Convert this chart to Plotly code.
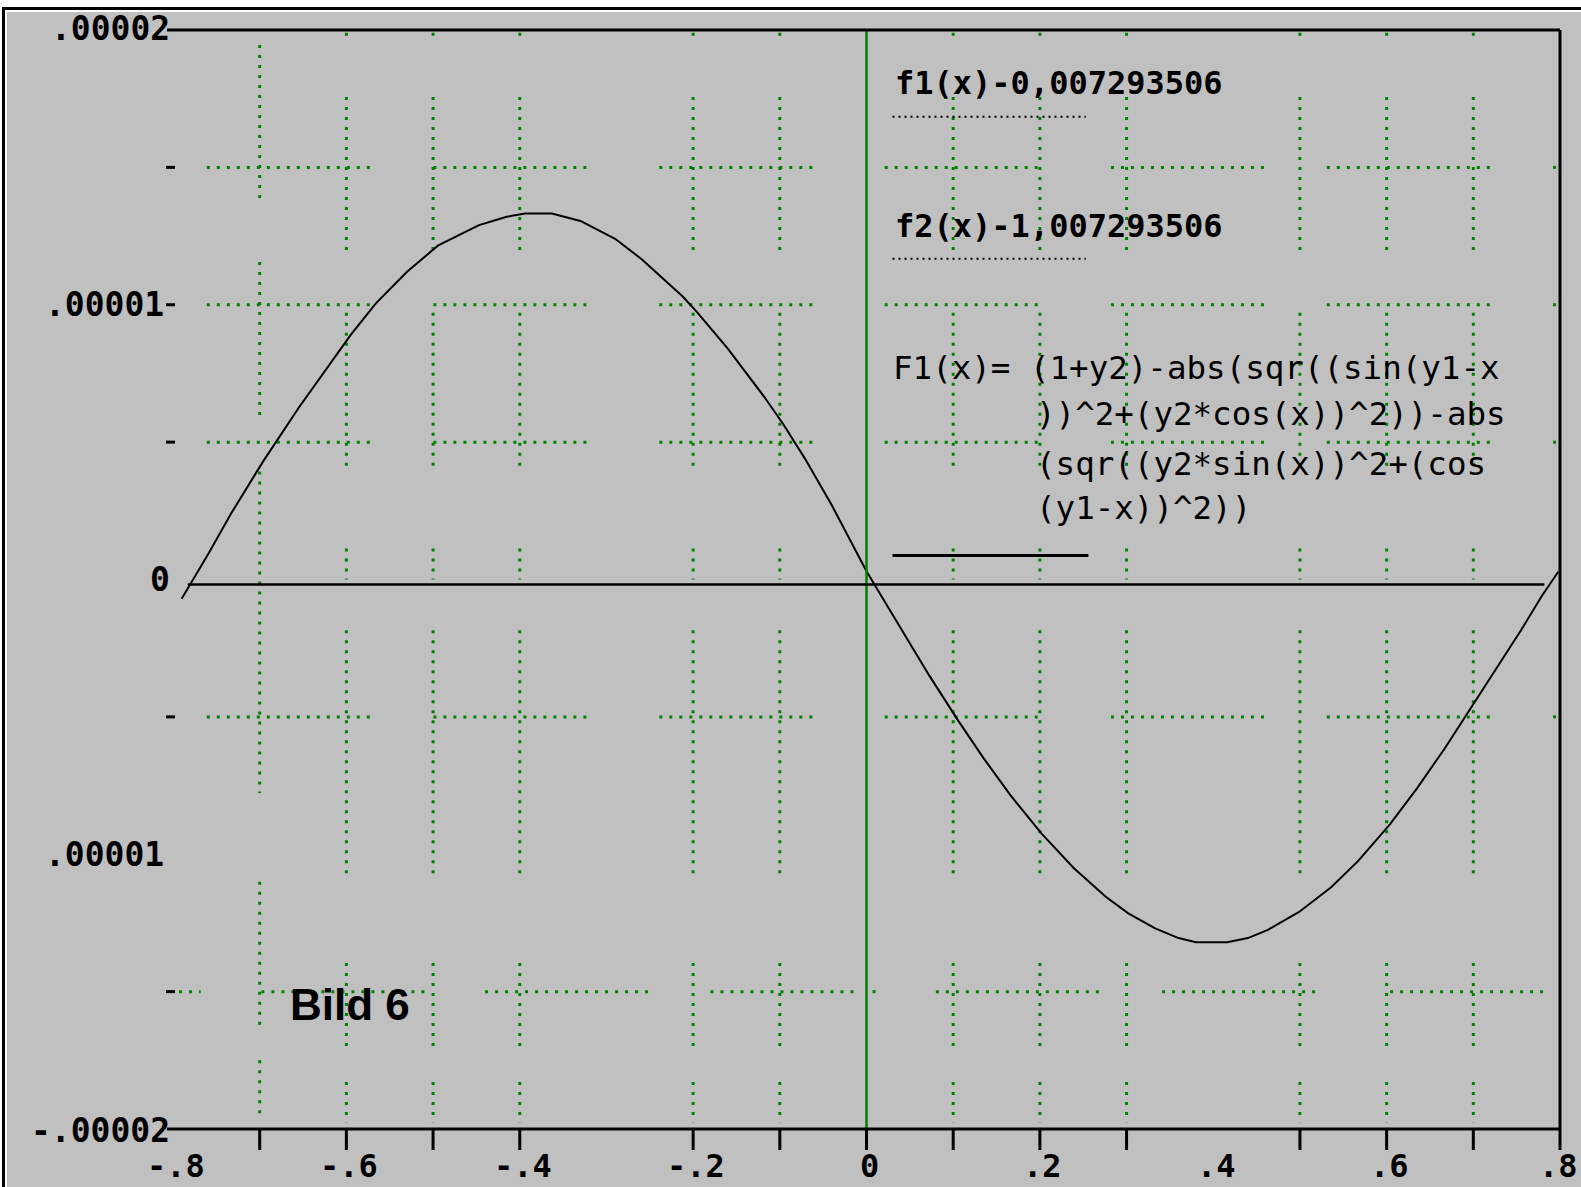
import plotly.graph_objects as go

# ---------------- data ----------------
curve_x = [-0.790, -0.759, -0.733, -0.696, -0.655, -0.624, -0.595, -0.566, -0.530, -0.4945,
           -0.447, -0.415, -0.394, -0.363, -0.330, -0.290, -0.259, -0.212, -0.196, -0.160,
           -0.118, -0.096, -0.071, -0.040, -0.019, 0.000, 0.018, 0.046, 0.0725, 0.105,
           0.135, 0.166, 0.202, 0.239, 0.276, 0.302, 0.333, 0.360, 0.380, 0.416,
           0.440, 0.463, 0.499, 0.536, 0.567, 0.604, 0.635, 0.667, 0.700, 0.729,
           0.755, 0.779, 0.794, 0.798]
curve_y = [-0.07e-5, 0.095e-5, 0.24e-5, 0.43e-5, 0.625e-5, 0.76e-5, 0.89e-5, 1.005e-5, 1.12e-5, 1.215e-5,
           1.29e-5, 1.32e-5, 1.332e-5, 1.332e-5, 1.305e-5, 1.24e-5, 1.165e-5, 1.03e-5, 0.975e-5, 0.84e-5,
           0.665e-5, 0.565e-5, 0.44e-5, 0.27e-5, 0.145e-5, 0.03e-5, -0.065e-5, -0.21e-5, -0.35e-5, -0.51e-5,
           -0.65e-5, -0.785e-5, -0.925e-5, -1.05e-5, -1.155e-5, -1.215e-5, -1.27e-5, -1.305e-5, -1.32e-5, -1.32e-5,
           -1.305e-5, -1.275e-5, -1.21e-5, -1.12e-5, -1.025e-5, -0.89e-5, -0.76e-5, -0.615e-5, -0.455e-5, -0.315e-5,
           -0.185e-5, -0.06e-5, 0.012e-5, 0.028e-5]

x_label_vals = [-0.8, -0.6, -0.4, -0.2, 0.0, 0.2, 0.4, 0.6, 0.8]
x_label_text = ["-.8", "-.6", "-.4", "-.2", "0", ".2", ".4", ".6", ".8"]
x_tick_marks = [-0.7, -0.6, -0.5, -0.4, -0.2, -0.1, 0.0, 0.1, 0.2, 0.3, 0.5, 0.6, 0.7]

y_label_vals = [2e-5, 1e-5, 0.0, -1e-5, -2e-5]
y_label_text = [".00002", ".00001", "0", ".00001", "-.00002"]
y_minor_marks = [1.5e-5, 1e-5, 0.5e-5, -0.5e-5, -1.5e-5]

grid_x_vals = [-0.7, -0.6, -0.5, -0.4, -0.2, -0.1, 0.1, 0.2, 0.3, 0.5, 0.6, 0.7]
grid_y_vals = [1.5e-5, 1e-5, 0.5e-5, -0.5e-5, -1.5e-5]

text_f1 = "f1(x)-0,007293506"
text_f2 = "f2(x)-1,007293506"
formula_lines = ["F1(x)= (1+y2)-abs(sqr((sin(y1-x",
                 "))^2+(y2*cos(x))^2))-abs",
                 "(sqr((y2*sin(x))^2+(cos",
                 "(y1-x))^2))"]
title_text = "Bild 6"

# ---------------- layout geometry ----------------
W, H = 1581, 1187
L, R, T, B = 173, 21, 30, 58
PW, PH = W - L - R, H - T - B
XMIN, XMAX = -0.8, 0.8
YMIN, YMAX = -2e-5, 2e-5
GREEN = "#008000"
GRAY = "#c0c0c0"
MONO = "DejaVu Sans Mono"


def pxx(px):
    return (px - L) / PW


def pxy(py):
    return (H - B - py) / PH


def dx(x):
    return (x - XMIN) / (XMAX - XMIN)


def dy(y):
    return (y - YMIN) / (YMAX - YMIN)


shapes = []


def prect(x0, y0, x1, y1, color):
    shapes.append(dict(type="rect", xref="paper", yref="paper",
                       x0=pxx(x0), x1=pxx(x1), y0=pxy(y0), y1=pxy(y1),
                       fillcolor=color, line=dict(width=0), layer="below"))


def pline(x0, y0, x1, y1, color="black", width=3, dash="solid", layer="above"):
    shapes.append(dict(type="line", xref="paper", yref="paper",
                       x0=x0, x1=x1, y0=y0, y1=y1,
                       line=dict(color=color, width=width, dash=dash), layer=layer))


def dline(x0, y0, x1, y1, color="black", width=3, dash="solid", layer="above"):
    shapes.append(dict(type="line", xref="x", yref="y",
                       x0=x0, x1=x1, y0=y0, y1=y1,
                       line=dict(color=color, width=width, dash=dash), layer=layer))


# window frame (white margin, black rule, white highlight)
prect(0, 0, W, 7, "white")
prect(0, 0, 2, H, "white")
prect(2, 7, W, 10, "black")
prect(2, 7, 5, H, "black")
prect(5, 10, W, 12, "white")
prect(5, 10, 7, H, "white")

# segmented dotted grid (as in the original)
grid_dash = "3px,7px"
h_segments_upper = [(-0.761, -0.566), (-0.4996, -0.318), (-0.239, -0.055), (0.021, 0.203),
                    (0.282, 0.464), (0.531, 0.724), (0.792, 0.797)]
h_segments_lower = [(-0.793, -0.768), (-0.698, -0.506), (-0.44, -0.246), (-0.18, -0.009),
                    (0.007, 0.012), (0.08, 0.276), (0.341, 0.524), (0.604, 0.784)]
for gy in grid_y_vals:
    segs = h_segments_lower if gy < -1.2e-5 else h_segments_upper
    for a, b in segs:
        dline(a, gy, b, gy, color=GREEN, width=3, dash=grid_dash, layer="below")

v_segments_first = [(1.945, 1.376), (1.156, 0.587), (0.393, -0.777), (-1.10, -1.636), (-1.75, -1.967)]
v_segments_other = [(1.99, 1.965), (1.756, 1.185), (0.971, 0.393), (0.113, 0.0),
                    (-0.185, -1.069), (-1.396, -1.716), (-1.829, -1.975)]
for gx in grid_x_vals:
    segs = v_segments_first if gx < -0.65 else v_segments_other
    for a, b in segs:
        dline(gx, a * 1e-5, gx, b * 1e-5, color=GREEN, width=3, dash=grid_dash, layer="below")

# green vertical axis at x = 0
pline(dx(0.0), 0, dx(0.0), 1, color=GREEN, width=2.5)

# zero axis line
dline(-0.783, -0.018e-5, 0.782, -0.018e-5, width=2.5)

# plot frame
pline(pxx(167), 1, 1, 1, width=3)
pline(1, pxy(1150), 1, 1, width=3)
pline(pxx(167), 0, 1, 0, width=3)

# bottom tick marks
for xt in x_tick_marks:
    pline(dx(xt), 0, dx(xt), pxy(1150), width=3)

# left minor dashes
for ym in y_minor_marks:
    pline(pxx(166), dy(ym), pxx(175), dy(ym), width=3)

# legend sample lines
dline(0.030, 1.684e-5, 0.253, 1.684e-5, width=2, dash="2px,4px")
dline(0.030, 1.167e-5, 0.253, 1.167e-5, width=2, dash="2px,4px")
dline(0.030, 0.087e-5, 0.256, 0.087e-5, width=3)

annotations = []

# y labels
for v, t in zip(y_label_vals, y_label_text):
    right_px = 165.5 if t == ".00001" else 171.5
    annotations.append(dict(xref="paper", yref="y", x=pxx(right_px), y=v,
                            xanchor="right", yanchor="middle", text=t, showarrow=False,
                            yshift=2 if v > 1.5e-5 else (-1 if v < -1.5e-5 else 0),
                            font=dict(family=MONO, size=33, color="black", weight="bold")))

# x labels (the last one is kept inside the right edge)
for i, (v, t) in enumerate(zip(x_label_vals, x_label_text)):
    last = i == len(x_label_vals) - 1
    annotations.append(dict(xref="paper", yref="paper",
                            x=pxx(1580) if last else dx(v) + 3 / PW, y=pxy(H),
                            xanchor="right" if last else "center", yanchor="bottom",
                            text=t, showarrow=False,
                            font=dict(family=MONO, size=32, color="black", weight="bold")))

# legend texts
annotations.append(dict(xref="x", yref="y", x=0.030, y=1.807e-5, xanchor="left", yanchor="middle",
                        text=text_f1, showarrow=False,
                        font=dict(family=MONO, size=32, color="black", weight="bold")))
annotations.append(dict(xref="x", yref="y", x=0.030, y=1.287e-5, xanchor="left", yanchor="middle",
                        text=text_f2, showarrow=False,
                        font=dict(family=MONO, size=32, color="black", weight="bold")))
formula_pos = [(0.028, 0.771e-5), (0.193, 0.604e-5), (0.193, 0.422e-5), (0.193, 0.262e-5)]
for (fx, fy), line in zip(formula_pos, formula_lines):
    annotations.append(dict(xref="x", yref="y", x=fx, y=fy, xanchor="left", yanchor="middle",
                            text=line, showarrow=False,
                            font=dict(family=MONO, size=32.5, color="black")))

annotations.append(dict(xref="x", yref="y", x=-0.6676, y=-1.547e-5, xanchor="left", yanchor="middle",
                        text=title_text, showarrow=False,
                        font=dict(family="Liberation Sans", size=44, color="black", weight="bold")))

fig = go.Figure()
fig.add_trace(go.Scatter(x=curve_x, y=curve_y, mode="lines", line=dict(color="black", width=2),
                         hoverinfo="skip", showlegend=False))

fig.update_layout(
    width=W, height=H,
    margin=dict(l=L, r=R, t=T, b=B, pad=0),
    paper_bgcolor=GRAY, plot_bgcolor=GRAY,
    xaxis=dict(range=[XMIN, XMAX], visible=False, fixedrange=True),
    yaxis=dict(range=[YMIN, YMAX], visible=False, fixedrange=True),
    shapes=shapes, annotations=annotations, showlegend=False,
)

fig.write_html(
    "out.html",
    config={"displayModeBar": False},
    post_script="document.body.style.margin='0';document.body.style.padding='0';"
                "document.body.style.overflow='hidden';",
)
